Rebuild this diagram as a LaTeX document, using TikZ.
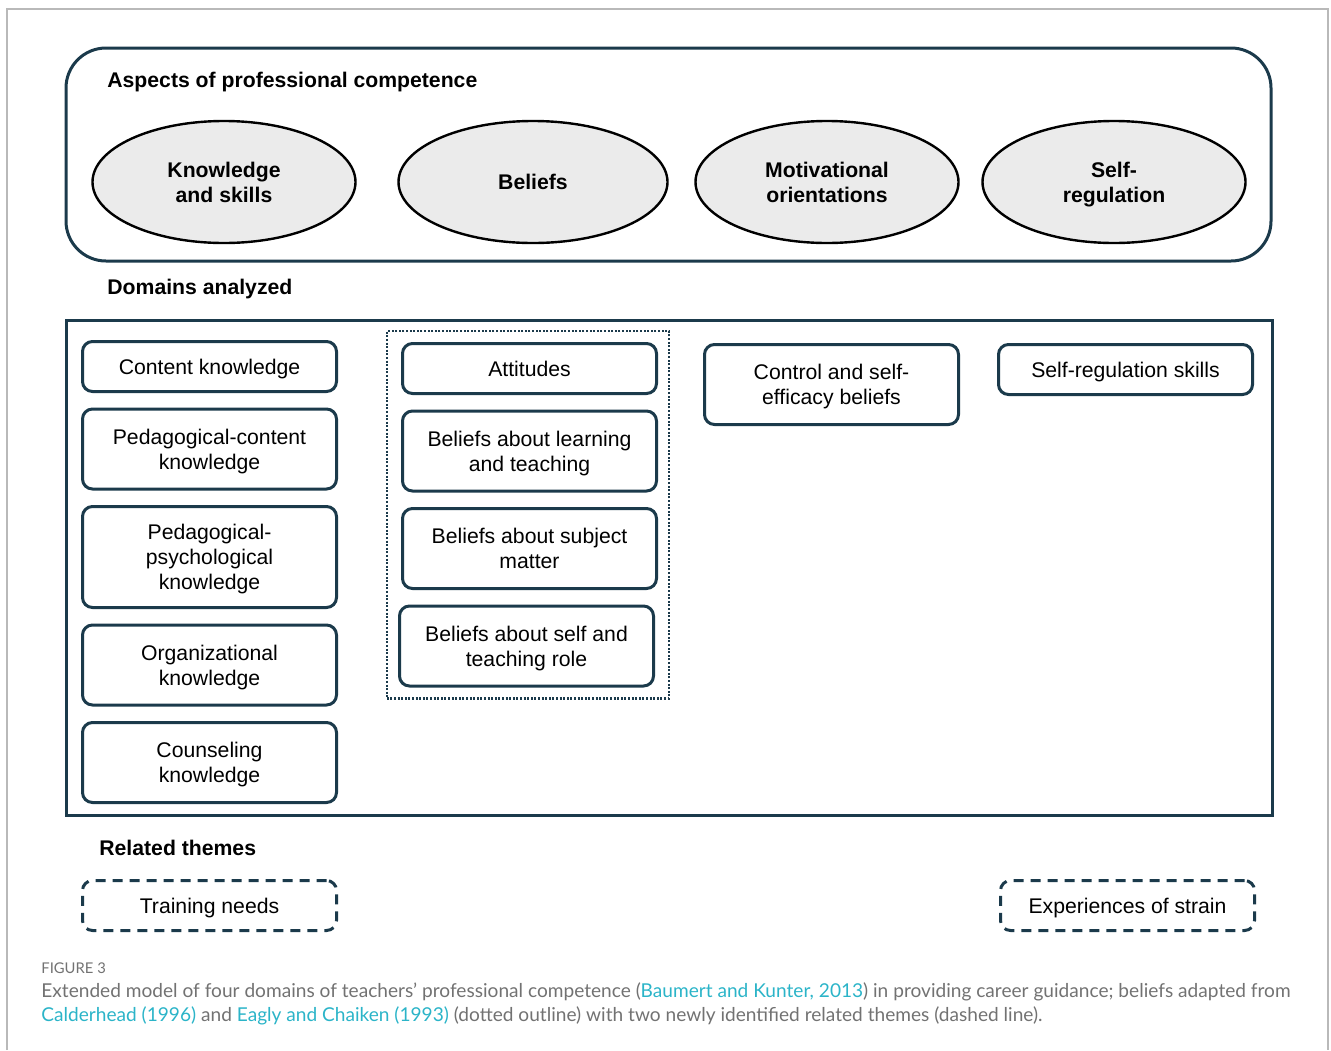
\documentclass[tikz,border=0pt]{standalone}
\usepackage{fontspec}
\setmainfont{Liberation Sans}
\newfontfamily\capfont{Lato}
\usepackage{xcolor}
\usetikzlibrary{positioning,shapes.geometric,fit}

\definecolor{navy}{HTML}{1B3A4B}
\definecolor{capgray}{HTML}{727272}
\definecolor{linkcyan}{HTML}{2BB4C8}
\definecolor{ovalfill}{HTML}{EBEBEB}

\tikzset{
  dombox/.style={draw=navy,line width=1.5pt,rounded corners=5pt,minimum width=127pt,
    minimum height=25pt,align=center,inner sep=2pt,text depth=0pt},
  tall/.style={minimum height=40pt},
  taller/.style={minimum height=50.5pt},
  themebox/.style={dombox,dash pattern=on 5pt off 3.5pt},
  aspectoval/.style={ellipse,draw=black,line width=1.2pt,fill=ovalfill,minimum width=131.5pt,
    minimum height=61pt,inner sep=0pt,align=center,font=\bfseries\fontsize{10.6}{12.5}\selectfont},
  sechead/.style={anchor=west,inner sep=0pt,font=\bfseries\fontsize{10.6}{12.5}\selectfont},
  capnote/.style={anchor=base west,inner sep=0pt,text=capgray,font=\capfont\fontsize{9.55}{11}\selectfont},
}

\begin{document}
\begin{tikzpicture}[x=0.5pt,y=-0.5pt,node distance=7.25pt,
    every node/.style={font=\fontsize{10.6}{12.5}\selectfont}]
  \useasboundingbox (0,0) rectangle (1331,1050);
  \draw[gray!55,line width=0.7pt] (7,1050) |- (1328,9) -- (1328,1050);

  % aspects
  \draw[navy,line width=1.5pt,rounded corners=20pt] (66,48) rectangle (1271,261);
  \node[sechead] (asp) at (107,82) {Aspects of professional competence};
  \node[aspectoval] (ks) at (224,182) {Knowledge\\and skills};
  \node[aspectoval,minimum width=134.5pt] (bel) at (533,182) {Beliefs};
  \node[aspectoval] (mo) at (827,182) {Motivational\\orientations};
  \node[aspectoval] (sr) at (1114,182) {Self-\\\smash{regulation}};

  % domains
  \node[sechead] (dom) at (107,289) {Domains analyzed};
  \draw[navy,line width=1.5pt] (66,320) rectangle (1272,815);

  \node[dombox,anchor=north west] (ck) at (81,340) {Content knowledge};
  \node[dombox,tall,below=of ck] (pck) {Pedagogical-content\\knowledge};
  \node[dombox,taller,below=of pck] (ppk) {Pedagogical-\\psychological\\knowledge};
  \node[dombox,tall,below=of ppk] (ok) {Organizational\\knowledge};
  \node[dombox,tall,below=of ok] (csk) {Counseling\\knowledge};

  \node[dombox,anchor=north west] (att) at (401,342) {Attitudes};
  \node[dombox,tall,below=of att] (blt) {Beliefs about learning\\and teaching};
  \node[dombox,tall,below=of blt] (bsm) {Beliefs about subject\\matter};
  \node[dombox,tall,below=of bsm,xshift=-1.5pt] (bst) {Beliefs about self and\\teaching role};
  \node[draw=navy,line width=1.2pt,dash pattern=on 1pt off 0.8pt,inner xsep=5.6pt,
    inner ysep=5.4pt,fit=(att)(blt)(bsm)(bst)] (blf) {};

  \node[dombox,tall,anchor=north west] (cse) at (703,343) {Control and self-\\efficacy beliefs};
  \node[dombox,anchor=north west] (srs) at (997,343) {Self-regulation skills};

  % related themes
  \node[sechead] (rel) at (99,848) {Related themes};
  \node[themebox,anchor=north west] (tn) at (81,879) {Training needs};
  \node[themebox,anchor=north west] (es) at (999,879) {Experiences of strain};

  % caption
  \node[capnote,font=\capfont\fontsize{7.4}{9}\selectfont] (fig) at (41,973) {FIGURE 3};
  \node[capnote] (cap1) at (41,997) {Extended model of four domains of teachers’ professional competence
    (\textcolor{linkcyan}{Baumert and Kunter, 2013}) in providing career guidance; beliefs adapted from};
  \node[capnote] (cap2) at (41,1021) {\textcolor{linkcyan}{Calderhead (1996)} and
    \textcolor{linkcyan}{Eagly and Chaiken (1993)} (dotted outline) with two newly identified related themes (dashed line).};
\end{tikzpicture}
\end{document}
